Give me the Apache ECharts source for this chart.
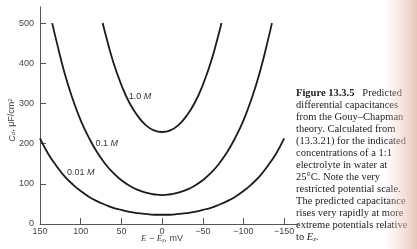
<!DOCTYPE html>
<html>
<head>
<meta charset="utf-8">
<script src="https://cdn.jsdelivr.net/npm/echarts@6/dist/echarts.min.js"></script>
<style>
  html, body { margin: 0; padding: 0; background: #fff; }
  #chart { width: 417px; height: 249px; }
</style>
</head>
<body>
<div id="chart"></div>
<script>
// potential E - Ez (mV) and capacitance (uF/cm2)
const x001 = [150, 140, 130, 120, 110, 100, 90, 80, 70, 60, 50, 40, 30, 20, 10, 0,
  -10, -20, -30, -40, -50, -60, -70, -80, -90, -100, -110, -120, -130, -140, -150]
const c001 = [213, 175, 145, 119, 99, 82, 68, 57, 48, 40, 35, 30, 27, 25, 23, 23,
  23, 25, 27, 30, 35, 40, 48, 57, 68, 82, 99, 119, 145, 175, 213]

const x01 = [135, 130, 120, 110, 100, 90, 80, 70, 60, 50, 40, 30, 20, 10, 0,
  -10, -20, -30, -40, -50, -60, -70, -80, -90, -100, -110, -120, -130, -135]
const c01 = [500, 457, 377, 312, 258, 215, 179, 150, 127, 109, 95, 85, 78, 74, 72,
  74, 78, 85, 95, 109, 127, 150, 179, 215, 258, 312, 377, 457, 500]

const x10 = [73, 70, 60, 50, 40, 30, 20, 10, 0, -10, -20, -30, -40, -50, -60, -70, -73]
const c10 = [500, 476, 403, 346, 301, 269, 246, 233, 229, 233, 246, 269, 301, 346, 403, 476, 500]

const xTicks = [150, 100, 50, 0, -50, -100, -150]
const yTicks = [0, 100, 200, 300, 400, 500]

// curve labels: [x, y, text]
const curveLabels = [
  [27, 318, '1.0'],
  [68, 201, '0.1'],
  [100, 127, '0.01']
]

const caption = '{b|Figure 13.3.5}   Predicted\ndifferential capacitances\nfrom the Gouy\u2013Chapman\n' +
  'theory. Calculated from\n(13.3.21) for the indicated\nconcentrations of a 1:1\n' +
  'electrolyte in water at\n25\u00b0C. Note the very\nrestricted potential scale.\n' +
  'The predicted capacitance\nrises very rapidly at more\nextreme potentials relative\nto {i|E}{sub|z}.'

const chart = echarts.init(document.getElementById('chart'))

const axisColor = '#555'
const labelFont = { color: '#444', fontSize: 9, fontFamily: 'Liberation Sans' }
const capSize = 10.5
const capLine = 12

const pairs = (xs, ys) => xs.map((x, i) => [x, ys[i]])

const curve = (name, xs, ys, lab) => ({
  name: name,
  type: 'line',
  data: pairs(xs, ys),
  smooth: true,
  showSymbol: false,
  silent: true,
  lineStyle: { color: '#1c1c1c', width: 1.8 },
  markPoint: {
    symbol: 'circle',
    symbolSize: 0,
    data: [{ coord: [lab[0], lab[1]] }],
    label: {
      show: true,
      position: 'inside',
      formatter: lab[2] + ' {i|M}',
      color: '#333',
      fontSize: 9,
      fontFamily: 'Liberation Sans',
      rich: { i: { fontStyle: 'italic', fontSize: 9, color: '#333', fontFamily: 'Liberation Sans' } }
    }
  }
})

chart.setOption({
  animation: false,
  backgroundColor: '#fff',
  grid: { left: 40, right: 119, top: 7, bottom: 25, outerBoundsMode: 'none' },
  xAxis: {
    type: 'value',
    inverse: true,
    min: -167,
    max: 150,
    splitLine: { show: false },
    axisLine: { show: true, onZero: false, lineStyle: { color: axisColor, width: 1 } },
    axisTick: { show: true, inside: true, length: 6, customValues: xTicks, lineStyle: { color: axisColor } },
    axisLabel: Object.assign({ customValues: xTicks, margin: 3,
      formatter: v => String(v).replace('-', '\u2212') }, labelFont)
  },
  yAxis: {
    type: 'value',
    min: 0,
    max: 540,
    splitLine: { show: false },
    axisLine: { show: true, onZero: false, lineStyle: { color: axisColor, width: 1 } },
    axisTick: { show: true, inside: true, length: 6, customValues: yTicks, lineStyle: { color: axisColor } },
    axisLabel: Object.assign({ customValues: yTicks, margin: 6 }, labelFont)
  },
  series: [
    curve('0.01 M', x001, c001, curveLabels[2]),
    curve('0.1 M', x01, c01, curveLabels[1]),
    curve('1.0 M', x10, c10, curveLabels[0])
  ],
  graphic: [
    {
      type: 'text',
      x: 12, y: 120,
      rotation: Math.PI / 2,
      style: {
        text: '{i|C}{sub|d}, \u03bcF/cm{sup|2}',
        align: 'center', verticalAlign: 'middle',
        fill: '#444', font: '9px "Liberation Sans"',
        rich: {
          i: { fontStyle: 'italic', fontSize: 9, fill: '#444', fontFamily: 'Liberation Sans' },
          sub: { fontStyle: 'italic', fontSize: 6, fill: '#444', verticalAlign: 'bottom', fontFamily: 'Liberation Sans' },
          sup: { fontSize: 6, fill: '#444', verticalAlign: 'top', fontFamily: 'Liberation Sans' }
        }
      }
    },
    {
      type: 'text',
      x: 162, y: 239,
      style: {
        text: '{i|E} \u2212 {i|E}{sub|z}, mV',
        align: 'center', verticalAlign: 'middle',
        fill: '#444', font: '9px "Liberation Sans"',
        rich: {
          i: { fontStyle: 'italic', fontSize: 9, fill: '#444', fontFamily: 'Liberation Serif' },
          sub: { fontStyle: 'italic', fontSize: 6, fill: '#444', verticalAlign: 'bottom', fontFamily: 'Liberation Serif' }
        }
      }
    },
    {
      type: 'text',
      x: 296, y: 87,
      style: {
        text: caption,
        align: 'left', verticalAlign: 'top',
        fill: '#222', font: capSize + 'px "Liberation Serif"', lineHeight: capLine,
        rich: {
          b: { fontWeight: 'bold', fontSize: capSize, fill: '#222', fontFamily: 'Liberation Serif', lineHeight: capLine },
          i: { fontStyle: 'italic', fontSize: capSize, fill: '#222', fontFamily: 'Liberation Serif', lineHeight: capLine },
          sub: { fontStyle: 'italic', fontSize: 6.5, fill: '#222', fontFamily: 'Liberation Serif', verticalAlign: 'bottom', lineHeight: capLine }
        }
      }
    },
    {
      type: 'rect',
      z: 100,
      silent: true,
      shape: { x: 384, y: 0, width: 33, height: 249 },
      style: {
        fill: new echarts.graphic.LinearGradient(0, 0, 1, 0, [
          { offset: 0, color: 'rgba(238,212,198,0)' },
          { offset: 1, color: 'rgba(226,188,170,0.85)' }
        ])
      }
    }
  ]
})
</script>
</body>
</html>
